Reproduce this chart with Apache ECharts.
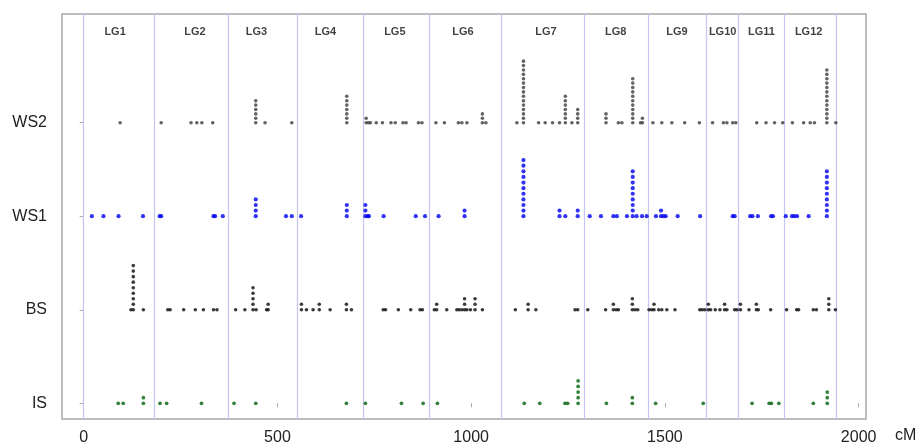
<!DOCTYPE html>
<html>
<head>
<meta charset="utf-8">
<script src="https://cdn.jsdelivr.net/npm/echarts@6/dist/echarts.min.js"></script>
<style>
  html, body { margin: 0; padding: 0; background: #fff; }
  #chart { width: 922px; height: 446px; }
</style>
</head>
<body>
<div id="chart"></div>
<script>
// ---- data ----
const rowNames = ['IS', 'BS', 'WS1', 'WS2'];
const xTicks = [0, 500, 1000, 1500, 2000];
const xUnit = 'cM';
const lgNames = ['LG1','LG2','LG3','LG4','LG5','LG6','LG7','LG8','LG9','LG10','LG11','LG12'];
const lgCenters = [81, 287, 446, 624, 803, 979, 1193, 1373, 1531, 1649, 1749, 1871];
const lgBounds = [0, 182, 374, 551, 721, 893, 1078, 1293, 1457, 1606, 1690, 1809, 1943];

// [position cM, number of stacked markers]
const ws2 = [[94,1],[200,1],[277,1],[292,1],[305,1],[333,1],[444,6],[468,1],[537,1],[679,7],
  [729,2],[735,1],[740,1],[755,1],[771,1],[793,1],[804,1],[824,1],[832,1],[864,1],[873,1],
  [909,1],[931,1],[967,1],[976,1],[989,1],[1029,3],[1038,1],
  [1118,1],[1135,15],[1174,1],[1191,1],[1210,1],[1228,1],[1243,7],[1260,1],[1275,4],
  [1348,3],[1380,1],[1389,1],[1417,11],[1437,1],[1442,2],
  [1469,1],[1492,1],[1518,1],[1551,1],[1589,1],
  [1623,1],[1651,1],[1660,1],[1675,1],[1683,1],
  [1737,1],[1761,1],[1783,1],[1804,1],
  [1829,1],[1858,1],[1875,1],[1886,1],[1918,13],[1941,1]];
const ws1 = [[21,1],[51,1],[90,1],[153,1],[196,1],[200,1],[335,1],[339,1],[359,1],[444,4],
  [522,1],[537,1],[561,1],[679,3],[727,3],[733,1],[736,1],[774,1],[857,1],[881,1],
  [916,1],[983,2],[1135,11],[1228,2],[1243,1],[1275,2],
  [1306,1],[1335,1],[1367,1],[1376,1],[1402,1],[1417,9],[1427,1],[1441,1],[1453,1],
  [1477,1],[1490,2],[1496,1],[1502,1],[1533,1],[1591,1],
  [1675,1],[1680,1],[1720,1],[1726,1],[1740,1],[1774,1],[1779,1],
  [1812,1],[1828,1],[1834,1],[1841,1],[1871,1],[1918,9]];
const bs = [[122,1],[128,9],[154,1],
  [217,1],[223,1],[258,1],[288,1],[309,1],[335,1],[344,1],
  [392,1],[416,1],[437,5],[445,1],[472,1],[476,2],
  [562,2],[575,1],[592,1],[608,2],[636,1],[678,2],[691,1],
  [773,1],[779,1],[812,1],[844,1],[868,1],[874,1],
  [905,1],[911,2],[937,1],[963,1],[969,1],[976,1],[983,3],[989,1],[998,1],[1010,3],[1029,1],
  [1114,1],[1147,2],[1167,1],[1268,1],[1275,1],
  [1301,1],[1347,1],[1367,2],[1374,1],[1380,1],[1416,3],[1423,1],[1430,1],
  [1459,1],[1466,1],[1472,2],[1484,1],[1492,1],[1505,1],[1526,1],
  [1590,1],[1596,1],[1603,1],[1612,2],[1618,1],[1630,1],[1642,1],[1654,2],[1660,1],[1680,1],[1686,1],
  [1695,2],[1717,1],[1736,2],[1741,1],[1773,1],
  [1814,1],[1840,1],[1845,1],[1883,1],[1891,1],[1923,3],[1940,1]];
const is = [[89,1],[102,1],[154,2],[197,1],[214,1],[304,1],[388,1],[444,1],[678,1],[727,1],
  [820,1],[876,1],[913,1],[1137,1],[1177,1],[1242,1],[1249,1],[1276,5],[1349,1],[1416,2],
  [1476,1],[1599,1],[1725,1],[1769,1],[1775,1],[1794,1],[1883,1],[1919,3]];

// ---- layout / style ----
const rowIndex = { IS: 0, BS: 1, WS1: 2, WS2: 3 };
const stackStep = { IS: 0.060, BS: 0.059, WS1: 0.060, WS2: 0.047 };
const colors = { IS: '#00620a', BS: '#0a0a0a', WS1: '#0000f0', WS2: '#3c3c3c' };
const sizes = { IS: 3.7, BS: 3.6, WS1: 4.2, WS2: 3.6 };
const lgLabelY = 3.97;

function expand(name, arr) {
  const out = [];
  const base = rowIndex[name];
  arr.forEach(([x, n]) => {
    for (let k = 0; k < n; k++) out.push([x, base + k * stackStep[name]]);
  });
  return out;
}

const dataMap = { WS2: ws2, WS1: ws1, BS: bs, IS: is };
const dotSeries = Object.keys(dataMap).map(name => ({
  type: 'scatter',
  name: name,
  data: expand(name, dataMap[name]),
  symbol: 'circle',
  symbolSize: sizes[name],
  itemStyle: { color: colors[name] },
  z: 5,
  silent: true
}));

const chart = echarts.init(document.getElementById('chart'), null, { renderer: 'canvas' });
chart.setOption({
  animation: false,
  grid: {
    left: 62, right: 56, top: 14, bottom: 27,
    show: true, borderColor: '#a8a8a8', borderWidth: 1.5, backgroundColor: '#fff'
  },
  graphic: [{
    type: 'text', left: 895, top: 428, silent: true,
    style: { text: xUnit, font: '16px "Liberation Sans"', fill: '#222' }
  }],
  xAxis: {
    type: 'value',
    min: -56, max: 2019,
    splitLine: { show: false },
    axisLine: { show: false },
    axisTick: { show: true, customValues: xTicks, length: 4, lineStyle: { color: '#a8a8a8', width: 1 } },
    axisLabel: {
      customValues: xTicks, margin: 11,
      formatter: v => String(v),
      fontFamily: 'Liberation Sans', fontSize: 16, color: '#222'
    }
  },
  yAxis: {
    type: 'value',
    min: -0.168, max: 4.162,
    splitLine: { show: false },
    axisLine: { show: false },
    axisTick: { show: true, customValues: [0, 1, 2, 3], length: 4, lineStyle: { color: '#a8a8a8', width: 1 } },
    axisLabel: {
      customValues: [0, 1, 2, 3], margin: 15,
      formatter: v => rowNames[Math.round(v)],
      fontFamily: 'Liberation Sans', fontSize: 16, color: '#222'
    }
  },
  series: [{
    type: 'scatter',
    name: 'LG',
    symbolSize: 0,
    silent: true,
    z: 2,
    data: lgCenters.map((c, i) => ({ value: [c, lgLabelY], name: lgNames[i] })),
    label: {
      show: true, position: 'inside', formatter: '{b}',
      fontFamily: 'Liberation Sans', fontWeight: 'bold', fontSize: 11, color: '#111'
    },
    markLine: {
      silent: true,
      symbol: ['none', 'none'],
      label: { show: false },
      lineStyle: { color: '#c6c6f6', width: 1.2, type: 'solid' },
      data: lgBounds.map(x => ({ xAxis: x }))
    }
  }].concat(dotSeries)
});
</script>
</body>
</html>
